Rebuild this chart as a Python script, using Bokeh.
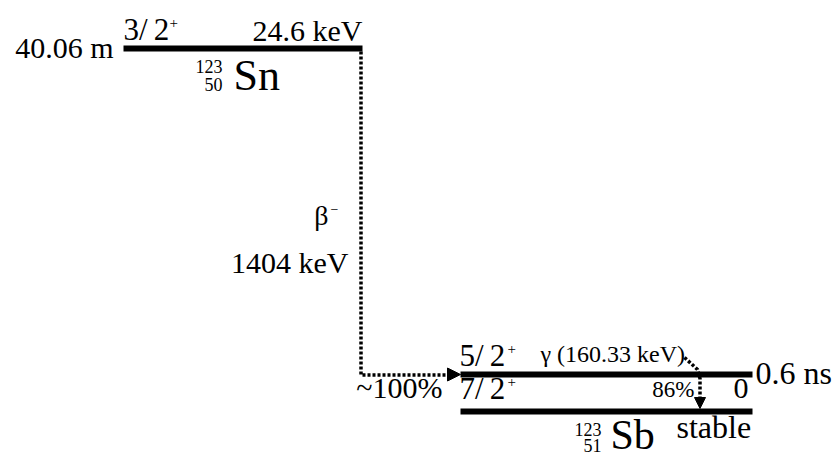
from bokeh.plotting import figure
from bokeh.models import Range1d, Arrow, NormalHead, ColumnDataSource
from bokeh.core.properties import value
from bokeh.embed import file_html
from bokeh.resources import INLINE

# ---------------- data (decay scheme of 123Sn -> 123Sb) ----------------
parent_symbol = "Sn"
parent_mass = "123"
parent_z = "50"
parent_spin = "3/\u20092"
parent_parity = "+"
parent_energy = "24.6 keV"
parent_halflife = "40.06 m"

daughter_symbol = "Sb"
daughter_mass = "123"
daughter_z = "51"
daughter_spins = ["5/\u20092", "7/\u20092"]
daughter_parities = ["+", "+"]
daughter_energies = ["", "0"]
daughter_halflives = ["0.6 ns", "stable"]

beta_label = "β"
beta_sign = "−"
beta_q = "1404 keV"
beta_branch = "~100%"

gamma_label = "γ (160.33 keV)"
gamma_branch = "86%"

# ---------------- layout (schematic, in picture pixels) ----------------
W, H = 835, 457
FONT = value("Liberation Serif")
BLACK = "#000000"

parent_x = (123, 362)
parent_y = 48
daughter_x = (460, 752)
daughter_y = [374, 411]
beta_x = 360.5
gamma_x = 699.5

p = figure(width=W, height=H, output_backend="svg", toolbar_location=None,
           x_range=Range1d(0, W), y_range=Range1d(H, 0),
           x_axis_type=None, y_axis_type=None, min_border=0,
           background_fill_color="white", border_fill_color="white")
p.outline_line_color = None

# levels
p.segment(x0=[parent_x[0]] + [daughter_x[0]] * 2,
          y0=[parent_y] + daughter_y,
          x1=[parent_x[1]] + [daughter_x[1]] * 2,
          y1=[parent_y] + daughter_y,
          line_width=6, line_color=BLACK, line_cap="butt")

# beta transition (dotted path + arrow head)
p.line(x=[beta_x, beta_x, daughter_x[0] - 12],
       y=[parent_y + 3, daughter_y[0] + 0.5, daughter_y[0] + 0.5],
       line_width=3.5, line_dash="3 2", line_color=BLACK, line_join="miter")
p.add_layout(Arrow(end=NormalHead(size=13, fill_color=BLACK, line_color=BLACK, line_width=1),
                   x_start=daughter_x[0] - 12, y_start=daughter_y[0],
                   x_end=daughter_x[0], y_end=daughter_y[0],
                   line_width=0, line_alpha=0))

# gamma transition
p.line(x=[684, 697, gamma_x, gamma_x],
       y=[357, 369, 378, daughter_y[1] - 12],
       line_width=3.5, line_dash="3 2", line_color=BLACK)
p.add_layout(Arrow(end=NormalHead(size=11, fill_color=BLACK, line_color=BLACK, line_width=1),
                   x_start=gamma_x, y_start=daughter_y[1] - 12,
                   x_end=gamma_x, y_end=daughter_y[1] - 3,
                   line_width=0, line_alpha=0))

labels = [
    # text, x, baseline y, size(px), align
    (parent_halflife, 113, 57, 30, "right"),
    (parent_spin, 123, 40, 31, "left"),
    (parent_parity, 169, 28, 15, "left"),
    (parent_energy, 362, 40, 30, "right"),
    (parent_mass, 222, 72, 18, "right"),
    (parent_z, 222, 90, 18, "right"),
    (parent_symbol, 233, 90, 44, "left"),
    (beta_label, 328, 225, 28, "right"),
    (beta_sign, 330, 213, 14, "left"),
    (beta_q, 348, 272, 30, "right"),
    (beta_branch, 442, 397, 30, "right"),
    (daughter_spins[0], 459, 366, 31, "left"),
    (daughter_parities[0], 507, 354, 15, "left"),
    (daughter_spins[1], 459, 399, 31, "left"),
    (daughter_parities[1], 507, 387, 15, "left"),
    (gamma_label, 540, 362, 24, "left"),
    (gamma_branch, 694, 397, 23, "right"),
    (daughter_energies[1], 748, 398, 30, "right"),
    (daughter_halflives[0], 755, 384, 32, "left"),
    (daughter_halflives[1], 676, 438, 32, "left"),
    (daughter_mass, 601, 435, 18, "right"),
    (daughter_z, 601, 451, 18, "right"),
    (daughter_symbol, 610, 449, 42, "left"),
]
SHIFT = 0.35  # renderer places alphabetic baseline ~0.35em low
src = ColumnDataSource(dict(
    text=[l[0] for l in labels],
    x=[l[1] for l in labels],
    y=[l[2] - SHIFT * l[3] for l in labels],
    size=["%dpx" % l[3] for l in labels],
    align=[l[4] for l in labels]))
p.text(x="x", y="y", text="text", source=src, text_font=FONT,
       text_font_size="size", text_align="align", text_baseline="alphabetic",
       text_color=BLACK)

open("out.html", "w").write(file_html(p, INLINE))
